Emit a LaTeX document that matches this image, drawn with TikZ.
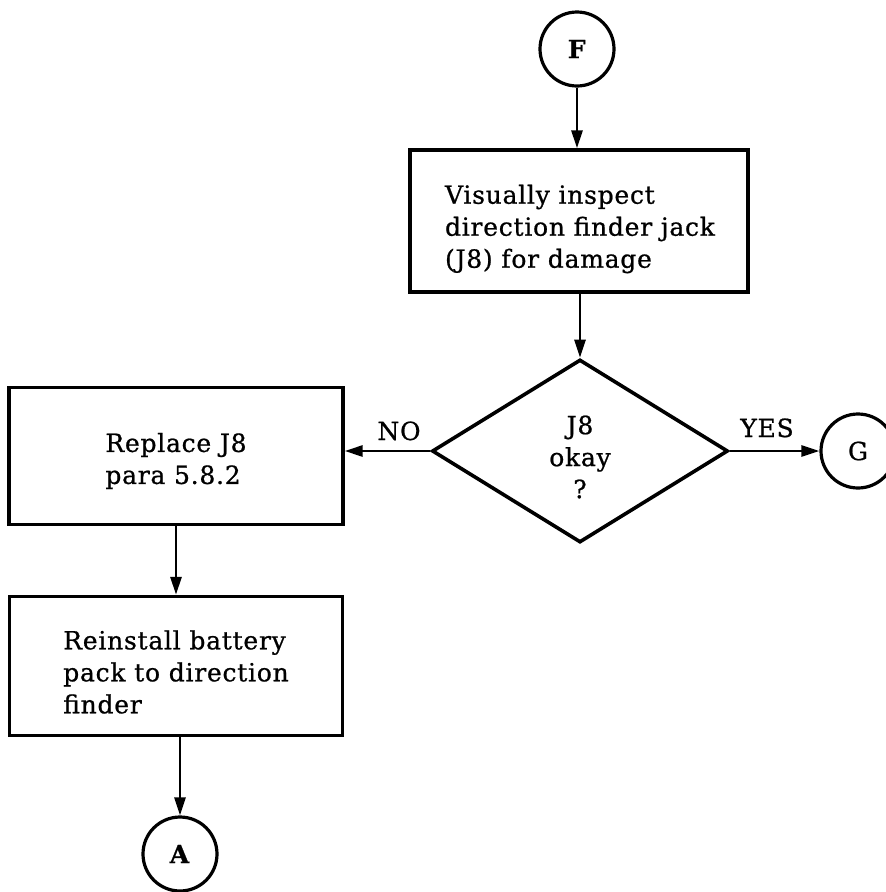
\documentclass[tikz,border=0pt]{standalone}
\usepackage{fontspec}
\setmainfont{DejaVu Serif}[LetterSpace=3,FakeBold=0.8]
\usetikzlibrary{shapes.geometric,arrows.meta}
\begin{document}
\begin{tikzpicture}[x=1pt,y=-1pt,
  every node/.style={font=\fontsize{25}{32}\selectfont},
  procbox/.style={draw,line width=3.4pt,rectangle,inner sep=0pt},
  steptext/.style={align=left,inner sep=0pt},
  decision/.style={draw,line width=3.6pt,diamond,aspect=1.62,inner sep=0pt,
    minimum width=296pt,minimum height=183pt},
  connector/.style={draw,line width=3.2pt,circle,inner sep=0pt,minimum size=74pt},
  flow/.style={line width=2.8pt,-{Triangle[length=18pt,width=11pt]}},
  lbl/.style={inner sep=0pt,anchor=base}]
\useasboundingbox (0,0) rectangle (886,892);

% off-page connectors
\node[connector] (F) at (577,49) {\textbf{F}};
\node[connector] (G) at (858,451) {G};
\node[connector] (A) at (180,854) {\textbf{A}};

% process steps: frames
\node[procbox,minimum width=338pt,minimum height=142pt] (inspect) at (579,221) {};
\node[decision] (ok) at (580,451) {};
\node[procbox,minimum width=334pt,minimum height=137pt] (replace) at (176,456) {};
\node[procbox,minimum width=333pt,minimum height=139pt] (reinstall) at (176,666) {};

% process steps: texts
\node[steptext] (inspecttxt) at (580,229)
  {Visually inspect\\direction finder jack\\(J8) for damage};
\node[steptext,align=center] (oktxt) at (580,457) {J8\\okay\\?};
\node[steptext] (replacetxt) at (176,461) {Replace J8\\para 5.8.2};
\node[steptext] (reinstalltxt) at (176,672)
  {Reinstall battery\\pack to direction\\finder};

% flow lines
\draw[flow] (F.south) -- (F.south |- inspect.north);
\draw[flow] (ok.north |- inspect.south) -- (ok.north);
\draw[flow] (ok.west) -- (ok.west -| replace.east);
\draw[flow] (ok.east) -- (ok.east -| G.west);
\draw[flow] (replace.south) -- (reinstall.north);
\draw[flow] (reinstall.south -| A.north) -- (A.north);

% branch labels
\node[lbl] (no) at (399,440) {NO};
\node[lbl] (yes) at (767,437) {YES};
\end{tikzpicture}
\end{document}
